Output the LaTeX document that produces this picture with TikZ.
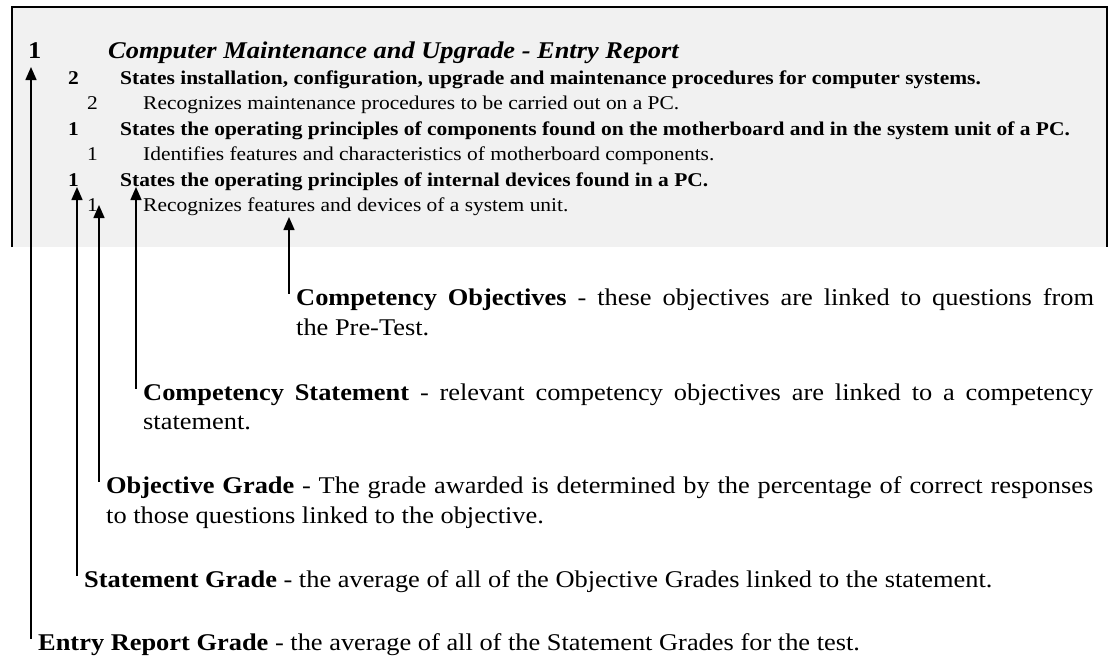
\documentclass[tikz,border=0pt]{standalone}
\usepackage{fontspec}
\setmainfont{Liberation Serif}[FakeStretch=1.1]
\usetikzlibrary{arrows.meta}
\definecolor{panelgray}{RGB}{241,241,241}
\tikzset{
  ttlfont/.style={anchor=base west,inner sep=0pt,font=\fontsize{24}{30}\selectfont\bfseries},
  stmtrow/.style={anchor=base west,inner sep=0pt,font=\fontsize{19.5}{24}\selectfont\bfseries},
  objrow/.style={anchor=base west,inner sep=0pt,font=\fontsize{19.5}{24}\selectfont},
  note/.style={anchor=north west,inner xsep=7pt,inner ysep=0pt,font=\fontsize{24}{29.5}\selectfont},
  pointer/.style={line width=1.5pt,-{Triangle[width=11pt,length=13pt]},shorten <=-5pt}
}
\begin{document}
\begin{tikzpicture}[x=1pt,y=-1pt]
  \useasboundingbox (0,0) rectangle (1112,657);
  % report panel (screen capture)
  \fill[panelgray] (12,7) rectangle (1107,247);
  \draw[line width=2pt] (12,247) -- (12,7) -- (1107,7) -- (1107,247);

  \node[ttlfont] (grd0) at (28,58) {1};
  \node[ttlfont] (title) at (108,58) {\itshape Computer Maintenance and Upgrade - Entry Report};

  \node[stmtrow] (grdS1) at (68,84) {2};
  \node[stmtrow] (stmt1) at (120,84) {States installation, configuration, upgrade and maintenance procedures for computer systems.};
  \node[objrow] (grdO1) at (87,109.5) {2};
  \node[objrow] (obj1) at (143,109.5) {Recognizes maintenance procedures to be carried out on a PC.};
  \node[stmtrow] (grdS2) at (68,135) {1};
  \node[stmtrow] (stmt2) at (120,135) {States the operating principles of components found on the motherboard and in the system unit of a PC.};
  \node[objrow] (grdO2) at (87,160.5) {1};
  \node[objrow] (obj2) at (143,160.5) {Identifies features and characteristics of motherboard components.};
  \node[stmtrow] (grdS3) at (68,186) {1};
  \node[stmtrow] (stmt3) at (120,186) {States the operating principles of internal devices found in a PC.};
  \node[objrow] (grdO3) at (87,211) {1};
  \node[objrow] (obj3) at (143,211) {Recognizes features and devices of a system unit.};

  % arrow tips
  \coordinate (tipRep) at (31,67);
  \coordinate (tipStm) at (77,187);
  \coordinate (tipObj) at (99,205);
  \coordinate (tipCst) at (136,187);
  \coordinate (tipCob) at (289,217);

  % explanations
  \node[note,text width=798pt,align=justify] (cob) at (289,288.5) {\textbf{Competency Objectives} - these objectives are linked to questions from\linebreak the Pre-Test.};
  \node[note,text width=950pt,align=justify] (cst) at (136,383.5) {\textbf{Competency Statement} - relevant competency objectives are linked to a competency\linebreak statement.};
  \node[note,text width=987pt,align=justify] (ogr) at (99,476.5) {\textbf{Objective Grade} - The grade awarded is determined by the percentage of correct responses\linebreak to those questions linked to the objective.};
  \node[note] (sgr) at (77,570.5) {\textbf{Statement Grade} - the average of all of the Objective Grades linked to the statement.};
  \node[note] (rgr) at (31,633.5) {\textbf{Entry Report Grade} - the average of all of the Statement Grades for the test.};

  \draw[pointer] (cob.north west) -- (tipCob);
  \draw[pointer] (cst.north west) -- (tipCst);
  \draw[pointer] (ogr.north west) -- (tipObj);
  \draw[pointer] (sgr.north west) -- (tipStm);
  \draw[pointer] (rgr.north west) -- (tipRep);
\end{tikzpicture}
\end{document}
